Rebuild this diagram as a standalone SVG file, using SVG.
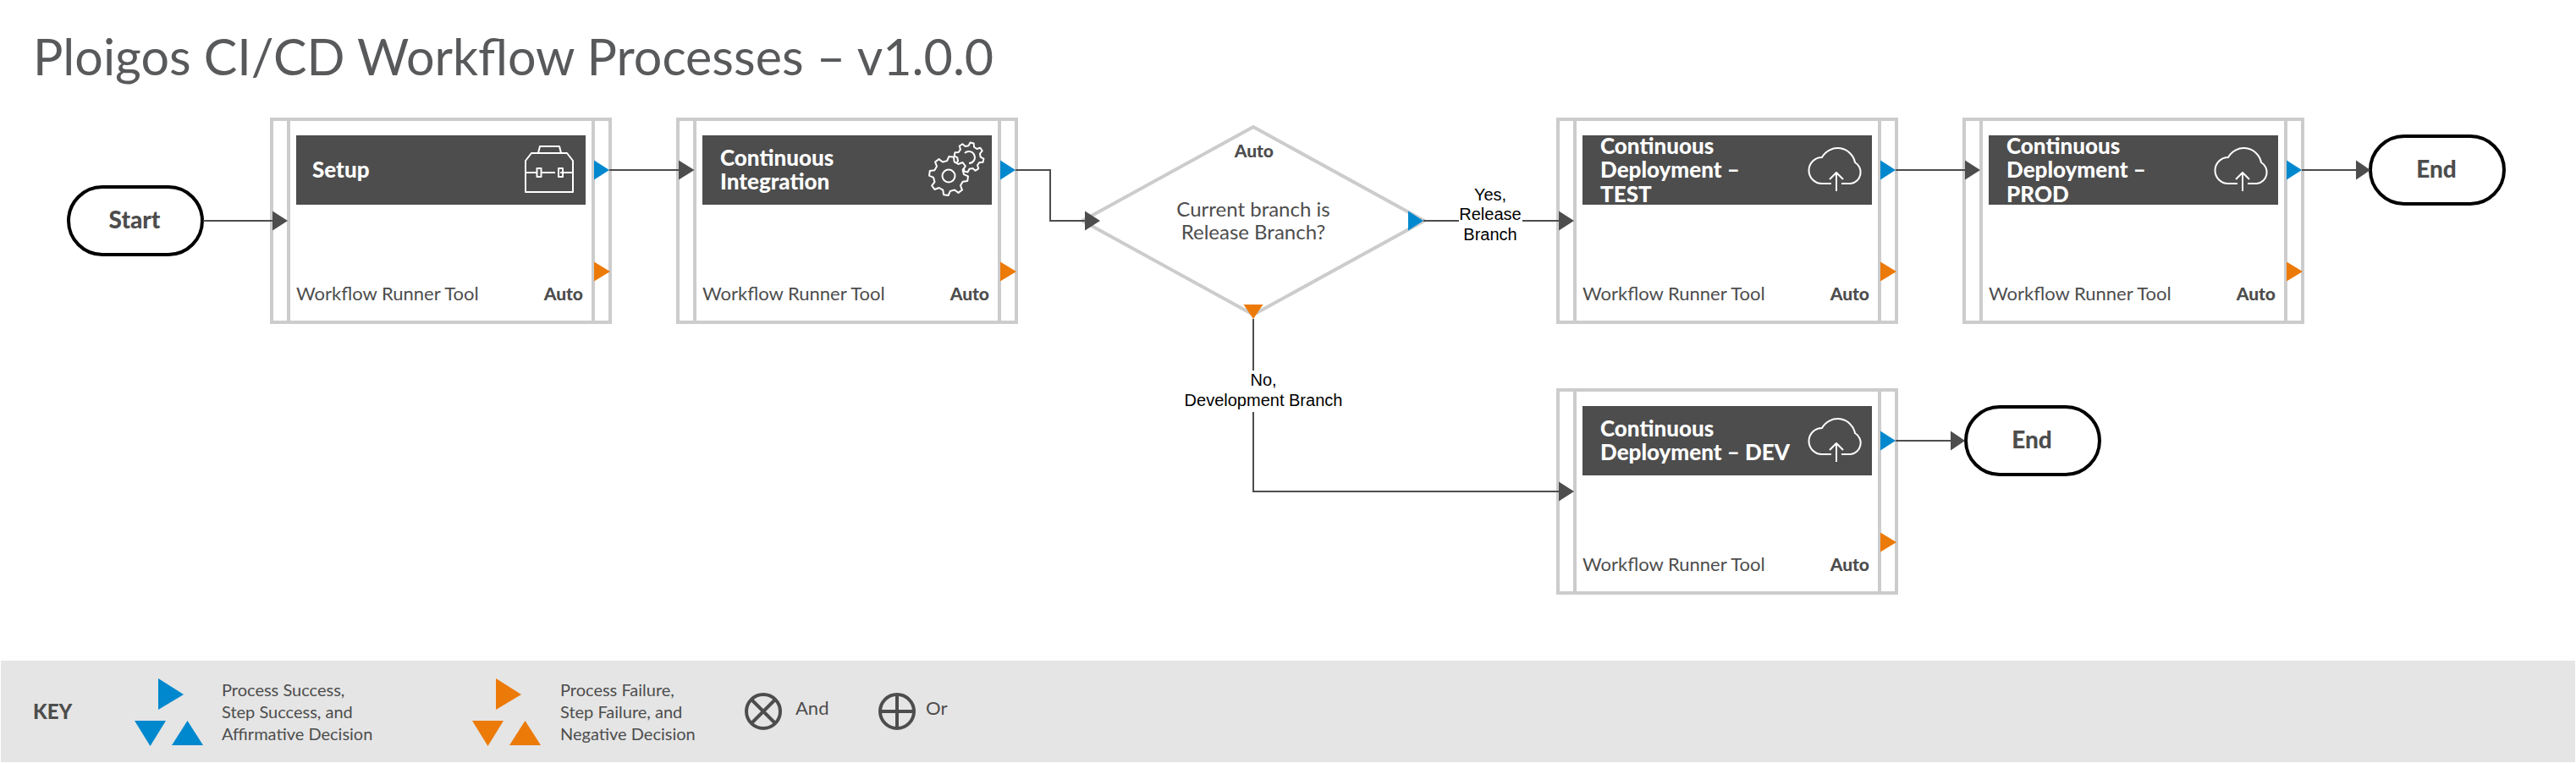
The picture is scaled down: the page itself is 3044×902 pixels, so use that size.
<svg xmlns="http://www.w3.org/2000/svg" width="3044" height="902" viewBox="0 0 3044 902">
<style>
text{font-family:Lato,"Open Sans","Liberation Sans",sans-serif;fill:#4d4d4d}
.title{font-size:59.2px;font-weight:400;fill:#58595b}
.box{fill:#fff;stroke:#cccccc;stroke-width:4}
.div{stroke:#cccccc;stroke-width:4;fill:none}
.hdr{fill:#4d4d4d}
.ht{font-size:26px;font-weight:900;fill:#fff}
.tool{font-size:22px;font-weight:400}
.auto{font-size:21px;font-weight:900;text-anchor:end}
.pill{fill:#fff;stroke:#000;stroke-width:4}
.pt{font-size:28px;font-weight:900;text-anchor:middle}
.edge{fill:none;stroke:#4d4d4d;stroke-width:2}
.head{fill:#4d4d4d}
.ok{fill:#0088ce}
.bad{fill:#ec7a08}
.el{font-family:"Liberation Sans",Arial,sans-serif;font-size:20px;fill:#000;text-anchor:middle}
.q{font-size:24px;text-anchor:middle}
.key{font-size:20px}
.key2{font-size:22px}
.icon{fill:none;stroke:#fff;stroke-width:2;stroke-linejoin:round}
.sym{fill:none;stroke:#4d4d4d;stroke-width:4}
</style>
<defs>
<path id="gear" d="M22.83 2.8L17.47 4.35L15.43 9.27L18.12 14.16L14.16 18.12L9.27 15.43L4.35 17.47L2.8 22.83L-2.8 22.83L-4.35 17.47L-9.27 15.43L-14.16 18.12L-18.12 14.16L-15.43 9.27L-17.47 4.35L-22.83 2.8L-22.83 -2.8L-17.47 -4.35L-15.43 -9.27L-18.12 -14.16L-14.16 -18.12L-9.27 -15.43L-4.35 -17.47L-2.8 -22.83L2.8 -22.83L4.35 -17.47L9.27 -15.43L14.16 -18.12L18.12 -14.16L15.43 -9.27L17.47 -4.35L22.83 -2.8Z"/>
<g id="cloud" class="icon"><path d="M2164 217H2153A15.5 15.5 0 0 1 2153 186A21 21 0 0 1 2192 192A13.5 13.5 0 0 1 2187 217H2176"/><path d="M2170 226V204M2162 212L2170 204L2178 212"/></g>
</defs>
<text class="title" x="39" y="89">Ploigos CI/CD Workflow Processes – v1.0.0</text>

<g id="node-setup">
<rect class="box" x="321" y="141" width="400" height="240"/><path class="div" d="M341 141V381M701 141V381"/>
<rect class="hdr" x="350" y="160" width="342" height="82"/>
<text class="ht" x="369" y="210">Setup</text>
<g class="icon"><path d="M621 227V190L628 181H670L677 190V227Z"/><path d="M636 181L638 173H661L663 181"/><path d="M621 204H634M640 204H656M662 204H677"/><rect x="634.5" y="199" width="5" height="10"/><rect x="660" y="199" width="5" height="10"/></g>
<text class="tool" x="350" y="355">Workflow Runner Tool</text><text class="auto" x="689" y="355">Auto</text>
<path class="ok" d="M702 189.500L720 201L702 212.500Z"/><path class="bad" d="M702 309.500L721 321L702 332.500Z"/>
</g>

<g id="node-ci">
<rect class="box" x="801" y="141" width="400" height="240"/><path class="div" d="M821 141V381M1181 141V381"/>
<rect class="hdr" x="830" y="160" width="342" height="82"/>
<text class="ht"><tspan x="851" y="196">Continuous</tspan><tspan x="851" y="224">Integration</tspan></text>
<g class="icon" style="fill:#4d4d4d">
<use href="#gear" transform="translate(1145 186) rotate(12) scale(.76)" style="stroke-width:2.6"/>
<path d="M1140 181A7 7 0 1 1 1145 193"/>
<use href="#gear" transform="translate(1121 208) rotate(8)"/>
<circle cx="1121" cy="208" r="7.500"/>
</g>
<text class="tool" x="830" y="355">Workflow Runner Tool</text><text class="auto" x="1169" y="355">Auto</text>
<path class="ok" d="M1182 189.500L1200 201L1182 212.500Z"/><path class="bad" d="M1182 309.500L1201 321L1182 332.500Z"/>
</g>

<g id="node-decision">
<path d="M1481 150L1683 261L1481 372L1279 261Z" fill="#fff" stroke="#cccccc" stroke-width="4"/>
<text class="auto" x="1505" y="186">Auto</text>
<text class="q"><tspan x="1481" y="256">Current branch is</tspan><tspan x="1481" y="283">Release Branch?</tspan></text>
<path class="ok" d="M1664 249.500L1682 261L1664 272.500Z"/><path class="bad" d="M1469.500 360H1492.500L1481 377Z"/>
</g>

<g id="node-test">
<rect class="box" x="1841" y="141" width="400" height="240"/><path class="div" d="M1861 141V381M2221 141V381"/>
<rect class="hdr" x="1870" y="160" width="342" height="82"/>
<text class="ht"><tspan x="1891" y="182">Continuous</tspan><tspan x="1891" y="210">Deployment –</tspan><tspan x="1891" y="239">TEST</tspan></text>
<use href="#cloud"/>
<text class="tool" x="1870" y="355">Workflow Runner Tool</text><text class="auto" x="2209" y="355">Auto</text>
<path class="ok" d="M2222 189.500L2240 201L2222 212.500Z"/><path class="bad" d="M2222 309.500L2241 321L2222 332.500Z"/>
</g>

<g id="node-prod">
<rect class="box" x="2321" y="141" width="400" height="240"/><path class="div" d="M2341 141V381M2701 141V381"/>
<rect class="hdr" x="2350" y="160" width="342" height="82"/>
<text class="ht"><tspan x="2371" y="182">Continuous</tspan><tspan x="2371" y="210">Deployment –</tspan><tspan x="2371" y="239">PROD</tspan></text>
<use href="#cloud" transform="translate(480 0)"/>
<text class="tool" x="2350" y="355">Workflow Runner Tool</text><text class="auto" x="2689" y="355">Auto</text>
<path class="ok" d="M2702 189.500L2720 201L2702 212.500Z"/><path class="bad" d="M2702 309.500L2721 321L2702 332.500Z"/>
</g>

<g id="node-dev">
<rect class="box" x="1841" y="461" width="400" height="240"/><path class="div" d="M1861 461V701M2221 461V701"/>
<rect class="hdr" x="1870" y="480" width="342" height="82"/>
<text class="ht"><tspan x="1891" y="516">Continuous</tspan><tspan x="1891" y="544">Deployment – DEV</tspan></text>
<use href="#cloud" transform="translate(0 320)"/>
<text class="tool" x="1870" y="675">Workflow Runner Tool</text><text class="auto" x="2209" y="675">Auto</text>
<path class="ok" d="M2222 509.500L2240 521L2222 532.500Z"/><path class="bad" d="M2222 629.500L2241 641L2222 652.500Z"/>
</g>

<g id="node-start"><rect class="pill" x="81" y="221" width="158" height="80" rx="40"/><text class="pt" x="159" y="270">Start</text></g>
<g id="node-end-prod"><rect class="pill" x="2801" y="161" width="158" height="80" rx="40"/><text class="pt" x="2879" y="210">End</text></g>
<g id="node-end-dev"><rect class="pill" x="2323" y="481" width="158" height="80" rx="40"/><text class="pt" x="2401" y="530">End</text></g>

<g id="connectors">
<path class="edge" d="M240 261H324"/><path class="head" d="M322 249.500L340 261L322 272.500Z"/>
<path class="edge" d="M720 201H804"/><path class="head" d="M802 189.500L820.500 201L802 212.500Z"/>
<path class="edge" d="M1200 201H1241V261H1284"/><path class="head" d="M1282 249.500L1300 261L1282 272.500Z"/>
<path class="edge" d="M1682 261H1844"/><path class="head" d="M1842 249.500L1860 261L1842 272.500Z"/>
<path class="edge" d="M1481 377V581H1844"/><path class="head" d="M1842 569.500L1860 581L1842 592.500Z"/>
<path class="edge" d="M2240 201H2324"/><path class="head" d="M2322 189.500L2340 201L2322 212.500Z"/>
<path class="edge" d="M2720 201H2786"/><path class="head" d="M2784 189.500L2801 201L2784 212.500Z"/>
<path class="edge" d="M2240 521H2307"/><path class="head" d="M2305 509.500L2322 521L2305 532.500Z"/>
<rect x="1724" y="214" width="75" height="78" fill="#fff"/>
<text class="el"><tspan x="1761" y="237">Yes,</tspan><tspan x="1761" y="260">Release</tspan><tspan x="1761" y="284">Branch</tspan></text>
<rect x="1400" y="438" width="187" height="49" fill="#fff"/>
<text class="el"><tspan x="1493" y="456">No,</tspan><tspan x="1493" y="480">Development Branch</tspan></text>
</g>

<g id="key">
<rect x="1" y="781" width="3042" height="120" fill="#e5e5e5"/>
<text x="39" y="850" style="font-size:24px;font-weight:900">KEY</text>
<path class="ok" d="M187 802L217 821L187 839Z"/><path class="ok" d="M159 852H196L177.500 882Z"/><path class="ok" d="M203 881L221.500 852L240 881Z"/>
<text class="key"><tspan x="262" y="823">Process Success,</tspan><tspan x="262" y="849">Step Success, and</tspan><tspan x="262" y="875">Affirmative Decision</tspan></text>
<path class="bad" d="M586 802L616 821L586 839Z"/><path class="bad" d="M558 852H595L576.500 882Z"/><path class="bad" d="M602 881L620.500 852L639 881Z"/>
<text class="key"><tspan x="662" y="823">Process Failure,</tspan><tspan x="662" y="849">Step Failure, and</tspan><tspan x="662" y="875">Negative Decision</tspan></text>
<circle class="sym" cx="902" cy="841" r="20"/><path class="sym" d="M888 827L916 855M916 827L888 855"/>
<text class="key2" x="940" y="845">And</text>
<circle class="sym" cx="1060" cy="841" r="20"/><path class="sym" d="M1040 841H1080M1060 821V861"/>
<text class="key2" x="1094" y="845">Or</text>
</g>
</svg>
